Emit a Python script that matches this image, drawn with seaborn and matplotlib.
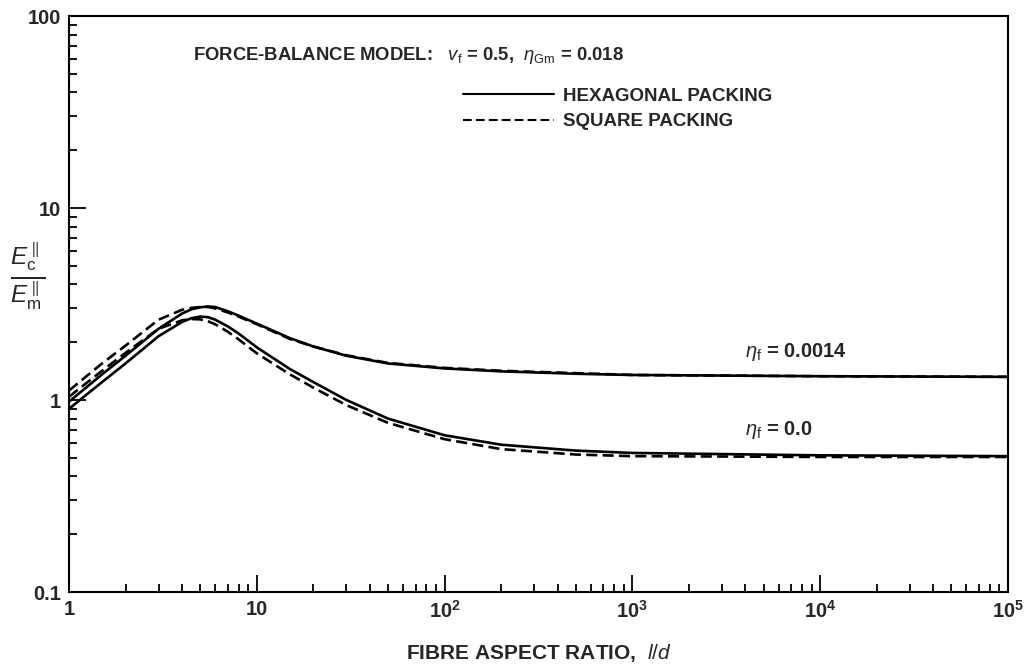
import numpy as np
import pandas as pd
import matplotlib
matplotlib.use("Agg")
import matplotlib.pyplot as plt
import matplotlib.ticker as mticker
import seaborn as sns

sns.set_style("ticks")
plt.rcParams["font.family"] = ["Liberation Sans", "DejaVu Sans"]
plt.rcParams["mathtext.fontset"] = "custom"
plt.rcParams["mathtext.rm"] = "Liberation Sans"
plt.rcParams["mathtext.it"] = "Liberation Sans:italic"
plt.rcParams["mathtext.bf"] = "Liberation Sans:bold"

# fibre aspect ratio l/d
aspect = [1, 1.5, 2, 3, 4, 4.5, 5, 5.5, 6, 7, 8, 10, 15, 20, 30, 50,
          100, 200, 500, 1000, 1e4, 1e5]

# Ec/Em, eta_f = 0.0014
hex_0014 = [0.98, 1.36, 1.70, 2.35, 2.82, 2.97, 3.04, 3.07, 3.05, 2.90, 2.75,
            2.50, 2.10, 1.90, 1.70, 1.55, 1.46, 1.41, 1.37, 1.35, 1.33, 1.32]
sq_0014 = [1.12, 1.55, 1.92, 2.62, 2.95, 3.02, 3.05, 3.05, 3.00, 2.86, 2.72,
           2.48, 2.08, 1.90, 1.71, 1.56, 1.47, 1.42, 1.38, 1.35, 1.33, 1.32]
# Ec/Em, eta_f = 0.0
hex_00 = [0.90, 1.24, 1.55, 2.15, 2.55, 2.67, 2.72, 2.70, 2.62, 2.42, 2.22,
          1.88, 1.45, 1.24, 1.00, 0.80, 0.655, 0.585, 0.545, 0.53, 0.515, 0.51]
sq_00 = [1.04, 1.42, 1.76, 2.35, 2.60, 2.64, 2.63, 2.57, 2.48, 2.27, 2.07,
         1.75, 1.36, 1.16, 0.94, 0.76, 0.625, 0.555, 0.52, 0.51, 0.505, 0.505]

packings = ["HEXAGONAL PACKING", "SQUARE PACKING"]

rows = []
for name, eta, vals in [(packings[0], "0.0014", hex_0014),
                        (packings[1], "0.0014", sq_0014),
                        (packings[0], "0.0", hex_00),
                        (packings[1], "0.0", sq_00)]:
    for a, v in zip(aspect, vals):
        rows.append({"aspect": a, "ratio": v, "packing": name,
                     "curve": name + eta})
df = pd.DataFrame(rows)

fig = plt.figure(figsize=(10.27, 6.68), dpi=100)
ax = fig.add_axes([69 / 1027, 1 - 592 / 668, 939 / 1027, 576 / 668])

sns.lineplot(data=df, x="aspect", y="ratio", style="packing", units="curve",
             estimator=None, sort=False, color="black", lw=1.9,
             dashes={packings[0]: "", packings[1]: (4.2, 2.0)}, ax=ax)

ax.set_xscale("log")
ax.set_yscale("log")
ax.set_xlim(1, 1e5)
ax.set_ylim(0.1, 100)

for s in ax.spines.values():
    s.set_linewidth(1.5)
    s.set_color("black")

ax.xaxis.set_major_locator(mticker.LogLocator(base=10))
ax.yaxis.set_major_locator(mticker.LogLocator(base=10))
ax.xaxis.set_minor_locator(mticker.LogLocator(base=10, subs=np.arange(2, 10)))
ax.yaxis.set_minor_locator(mticker.LogLocator(base=10, subs=np.arange(2, 10)))
ax.xaxis.set_minor_formatter(mticker.NullFormatter())
ax.yaxis.set_minor_formatter(mticker.NullFormatter())

xlabels = {1: "1", 10: "10", 100: "10$^\\mathbf{2}$", 1000: "10$^\\mathbf{3}$",
           10000: "10$^\\mathbf{4}$", 100000: "10$^\\mathbf{5}$"}
ylabels = {0.1: "0.1", 1: "1", 10: "10", 100: "100"}
ax.xaxis.set_major_formatter(mticker.FuncFormatter(
    lambda v, p: xlabels.get(int(round(v)) if v >= 1 else v, "")))
ax.yaxis.set_major_formatter(mticker.FuncFormatter(
    lambda v, p: ylabels.get(round(v, 1) if v < 1 else int(round(v)), "")))

ax.tick_params(which="both", direction="in", top=False, right=False,
               color="black", labelsize=14.5, width=1.3)
ax.tick_params(which="major", length=12, pad=6)
ax.tick_params(which="minor", length=6)
for lab in ax.get_xticklabels() + ax.get_yticklabels():
    lab.set_fontweight("bold")

ax.set_xlabel("FIBRE ASPECT RATIO,  $l/d$", fontsize=15,
              fontweight="bold", labelpad=14)
ax.set_ylabel("")

fig.text(28 / 1027, 1 - 277 / 668,
         r"$\frac{E_\mathrm{c}^{\parallel}}{E_\mathrm{m}^{\parallel}}$",
         fontsize=25, ha="center", va="center")

ax.text((193 - 69) / 939, (592 - 56) / 576,
        r"FORCE-BALANCE MODEL:   $v_\mathrm{f}$ = 0.5,  $\eta_\mathrm{Gm}$ = 0.018",
        transform=ax.transAxes, fontsize=13.3, fontweight="bold",
        ha="left", va="center")

ax.text((745 - 69) / 939, (592 - 352) / 576, r"$\eta_\mathrm{f}$ = 0.0014",
        transform=ax.transAxes, fontsize=14.5, fontweight="bold",
        ha="left", va="center")
ax.text((745 - 69) / 939, (592 - 430) / 576, r"$\eta_\mathrm{f}$ = 0.0",
        transform=ax.transAxes, fontsize=14.5, fontweight="bold",
        ha="left", va="center")

handles, labels = ax.get_legend_handles_labels()
keep = [(h, l) for h, l in zip(handles, labels) if l in packings]
leg = ax.legend([h for h, _ in keep], [l for _, l in keep],
                loc="upper left",
                bbox_to_anchor=((455 - 69) / 939, (592 - 80) / 576),
                frameon=False, handlelength=4.9, handletextpad=0.45,
                labelspacing=0.45, fontsize=13.5, borderaxespad=0)
for t in leg.get_texts():
    t.set_fontweight("bold")
for h in leg.get_lines():
    h.set_color("black")
    h.set_linewidth(1.5)

fig.savefig("out.png", dpi=100)
